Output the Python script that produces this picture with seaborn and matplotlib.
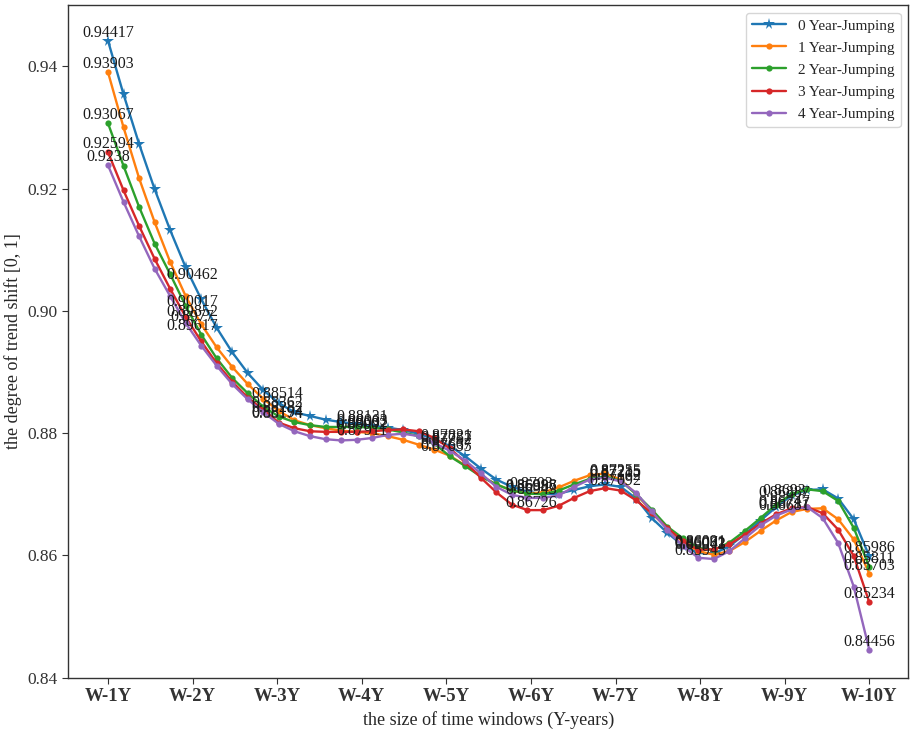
import numpy as np
import pandas as pd
import matplotlib
matplotlib.use("Agg")
import matplotlib.pyplot as plt
import seaborn as sns

# window sizes (x axis) and tick labels
windows = [1, 2, 3, 4, 5, 6, 7, 8, 9, 10]
tick_labels = ["W-1Y", "W-2Y", "W-3Y", "W-4Y", "W-5Y",
               "W-6Y", "W-7Y", "W-8Y", "W-9Y", "W-10Y"]

# 50 sample positions of the smoothed curves
x_samples = list(np.linspace(1, 10, 50))

series_names = ["0 Year-Jumping", "1 Year-Jumping", "2 Year-Jumping",
                "3 Year-Jumping", "4 Year-Jumping"]

curve_0 = [0.94417, 0.9354, 0.9273, 0.9199, 0.9132, 0.9071, 0.9019, 0.8972, 0.8932, 0.8898,
           0.8870, 0.8849, 0.8834, 0.8828, 0.8822, 0.8818, 0.8815, 0.8812, 0.8809, 0.8805,
           0.8799, 0.8790, 0.8779, 0.8762, 0.8742, 0.8724, 0.8712, 0.8704, 0.8700, 0.8701,
           0.8707, 0.8713, 0.8716, 0.8712, 0.8693, 0.8661, 0.8637, 0.8616, 0.8604, 0.8603,
           0.8615, 0.8635, 0.8657, 0.8679, 0.8698, 0.8707, 0.8708, 0.8693, 0.8659, 0.85986]
curve_1 = [0.93903, 0.9300, 0.9217, 0.9145, 0.9080, 0.9024, 0.8978, 0.8940, 0.8908, 0.8880,
           0.8856, 0.8836, 0.8821, 0.8813, 0.8808, 0.8804, 0.8802, 0.8800, 0.8795, 0.8789,
           0.8781, 0.8773, 0.8763, 0.8747, 0.8730, 0.8716, 0.8706, 0.8701, 0.8703, 0.8711,
           0.8722, 0.8731, 0.8734, 0.8724, 0.8700, 0.8672, 0.8645, 0.8622, 0.8607, 0.8601,
           0.8607, 0.8622, 0.8640, 0.8657, 0.8671, 0.8676, 0.8677, 0.8659, 0.8626, 0.85703]
curve_2 = [0.93067, 0.9237, 0.9170, 0.9110, 0.9060, 0.9008, 0.8961, 0.8922, 0.8890, 0.8865,
           0.8843, 0.8827, 0.8818, 0.8813, 0.8810, 0.8810, 0.8810, 0.8809, 0.8806, 0.8801,
           0.8795, 0.8783, 0.8762, 0.8746, 0.8729, 0.8716, 0.8706, 0.8701, 0.8700, 0.8706,
           0.8716, 0.8725, 0.8729, 0.8722, 0.8700, 0.8675, 0.8647, 0.8628, 0.8612, 0.8609,
           0.8621, 0.8640, 0.8661, 0.8683, 0.8700, 0.8708, 0.8705, 0.8689, 0.8645, 0.85811]
curve_3 = [0.92594, 0.9197, 0.9139, 0.9085, 0.9036, 0.8990, 0.8950, 0.8914, 0.8884, 0.8858,
           0.8838, 0.8817, 0.8808, 0.8803, 0.8802, 0.8802, 0.8802, 0.8803, 0.8805, 0.8806,
           0.8803, 0.8792, 0.8775, 0.8752, 0.8727, 0.8703, 0.8683, 0.8674, 0.8674, 0.8681,
           0.8694, 0.8705, 0.8710, 0.8706, 0.8690, 0.8669, 0.8645, 0.8623, 0.8609, 0.8610,
           0.8618, 0.8634, 0.8652, 0.8667, 0.8677, 0.8679, 0.8669, 0.8642, 0.8599, 0.85234]
curve_4 = [0.9238, 0.9178, 0.9122, 0.9069, 0.9024, 0.8980, 0.8943, 0.8910, 0.8880, 0.8855,
           0.8834, 0.8815, 0.8803, 0.8795, 0.8790, 0.8788, 0.8789, 0.8792, 0.8797, 0.8799,
           0.8795, 0.8784, 0.8771, 0.8755, 0.8734, 0.8712, 0.8699, 0.8694, 0.8694, 0.8698,
           0.8712, 0.8724, 0.8727, 0.8721, 0.8702, 0.8672, 0.8642, 0.8615, 0.8596, 0.8594,
           0.8607, 0.8628, 0.8649, 0.8665, 0.8675, 0.8679, 0.8661, 0.8620, 0.8549, 0.84456]

# annotated values at each window size
labels_0 = [0.94417, 0.90462, 0.88514, 0.88131, 0.87821, 0.8703, 0.87162, 0.86043, 0.86887, 0.85986]
labels_1 = [0.93903, 0.90017, 0.88362, 0.88032, 0.87635, 0.86998, 0.87255, 0.86062, 0.86681, 0.85703]
labels_2 = [0.93067, 0.89852, 0.88282, 0.88063, 0.87667, 0.86987, 0.87235, 0.86071, 0.8693, 0.85811]
labels_3 = [0.92594, 0.8977, 0.88194, 0.88002, 0.87787, 0.86726, 0.87092, 0.86091, 0.86747, 0.85234]
labels_4 = [0.9238, 0.89617, 0.88174, 0.87911, 0.87752, 0.86943, 0.87215, 0.85945, 0.86717, 0.84456]

curves = [curve_0, curve_1, curve_2, curve_3, curve_4]
labels = [labels_0, labels_1, labels_2, labels_3, labels_4]
colors = ["#1f77b4", "#ff7f0e", "#2ca02c", "#d62728", "#9467bd"]
markers = ["*", "o", "o", "o", "o"]
msizes = [8.5, 4.5, 4.5, 4.5, 4.5]

sns.set_style("ticks")
plt.rcParams["font.family"] = ["Liberation Serif", "DejaVu Serif"]
plt.rcParams["axes.edgecolor"] = "#333333"
plt.rcParams["xtick.color"] = "#333333"
plt.rcParams["ytick.color"] = "#333333"

fig = plt.figure(figsize=(9.1, 7.31), dpi=100)
ax = fig.add_axes([0.075, 0.073, 0.923, 0.92])

for name, cv, col, mk, ms in zip(series_names, curves, colors, markers, msizes):
    df = pd.DataFrame({"x": x_samples, "y": cv})
    sns.lineplot(data=df, x="x", y="y", ax=ax, color=col, marker=mk,
                 markersize=ms, markeredgewidth=0, linewidth=1.7, label=name)

for lv in labels:
    for k, v in zip(windows, lv):
        ax.text(k, v, str(v), ha="center", va="bottom", fontsize=11.5, color="#1a1a1a")

ax.set_xlim(0.53, 10.46)
ax.set_ylim(0.84, 0.950)
ax.set_xticks(windows)
ax.set_xticklabels(tick_labels, fontweight="bold", fontsize=13.5)
ax.set_yticks([0.84, 0.86, 0.88, 0.90, 0.92, 0.94])
ax.set_yticklabels(["0.84", "0.86", "0.88", "0.90", "0.92", "0.94"], fontsize=12.5)
ax.tick_params(direction="out", length=4)
ax.set_xlabel("the size of time windows (Y-years)", fontsize=13)
ax.set_ylabel("the degree of trend shift [0, 1]", fontsize=13)
for s in ax.spines.values():
    s.set_visible(True)
    s.set_linewidth(1.0)

leg = ax.legend(loc="upper right", fontsize=11, frameon=True, fancybox=True,
                framealpha=0.8, edgecolor="#cccccc", handlelength=2.2,
                labelspacing=0.55)

fig.savefig("out.png", dpi=100)
